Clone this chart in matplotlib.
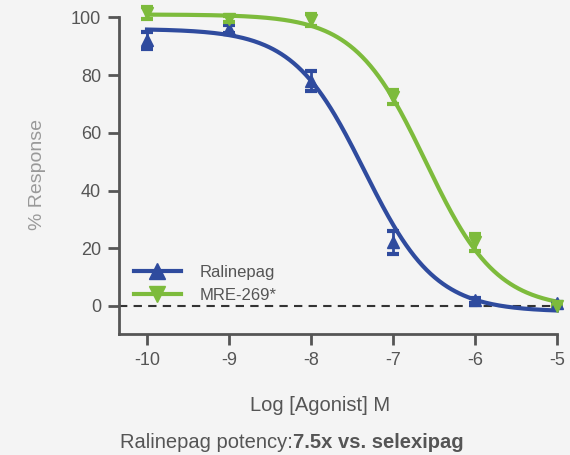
import numpy as np
import matplotlib
matplotlib.use("Agg")
import matplotlib.pyplot as plt

plt.rcParams["font.family"] = ["Liberation Sans", "DejaVu Sans"]

# log concentration (M)
logConc = [-10, -9, -8, -7, -6, -5]

ralinepag = [92, 96, 78, 22, 2, 1]
ralinepagErr = [3, 1.5, 3.5, 4, 0.8, 0.5]
mre269 = [101.5, 99.5, 99, 72.5, 22, 0]
mre269Err = [2, 1, 2, 2.5, 3, 0.5]

# 4-parameter logistic fit params: top, bottom, logEC50, hill
ralinepagFit = [96, -2, -7.35, 1.0]
mre269Fit = [101, -1, -6.6, 1.0]

blue = "#2f4b9e"
green = "#7dbb3c"
grey = "#555555"


def logistic(x, top, bottom, ec50, hill):
    return bottom + (top - bottom) / (1 + 10 ** (hill * (x - ec50)))


fig = plt.figure(figsize=(5.7, 4.55), dpi=100, facecolor="#f4f4f4")
ax = fig.add_axes([0.209, 0.266, 0.768, 0.699])
ax.set_facecolor("#f4f4f4")

xs = np.linspace(-10, -5, 300)
ax.plot(xs, logistic(xs, *ralinepagFit), color=blue, lw=3, zorder=3, clip_on=False)
ax.plot(xs, logistic(xs, *mre269Fit), color=green, lw=3, zorder=3, clip_on=False)

for y, err, mk, c in [(ralinepag, ralinepagErr, "^", blue), (mre269, mre269Err, "v", green)]:
    eb = ax.errorbar(logConc, y, yerr=err, fmt=mk, color=c, ms=9,
                     capsize=4.5, capthick=3, elinewidth=2, zorder=4)
    for art in eb.get_children():
        art.set_clip_on(False)

ax.axhline(0, color="#333333", lw=1.5, ls=(0, (4, 3)), zorder=2)

# legend handles
ax.plot([], [], color=blue, lw=3, marker="^", ms=11, label="Ralinepag")
ax.plot([], [], color=green, lw=3, marker="v", ms=11, label="MRE-269*")
ax.legend(loc="lower left", bbox_to_anchor=(0.0, 0.05), frameon=False, fontsize=12,
          labelcolor=grey, handlelength=2.8, handletextpad=1.1, labelspacing=0.5)

ax.set_xlim(-10.34, -5)
ax.set_ylim(-9.7, 100.5)
ax.set_xticks(logConc)
ax.set_xticklabels([str(v) for v in logConc])
ax.set_yticks([0, 20, 40, 60, 80, 100])

for s in ["top", "right"]:
    ax.spines[s].set_visible(False)
for s in ["left", "bottom"]:
    ax.spines[s].set_color(grey)
    ax.spines[s].set_linewidth(2)
ax.spines["left"].set_bounds(-9.7, 100)
ax.tick_params(colors=grey, width=2, length=8, labelsize=13, pad=5)

ax.set_ylabel("% Response", color="#999999", fontsize=14, labelpad=18)
ax.set_xlabel("Log [Agonist] M", color=grey, fontsize=14.5)
ax.xaxis.set_label_coords(0.46, -0.195)

fig.text(0.514, 0.016, "Ralinepag potency:", ha="right", va="baseline",
         color=grey, fontsize=14.5)
fig.text(0.514, 0.016, "7.5x vs. selexipag", ha="left", va="baseline",
         color=grey, fontsize=14.5, fontweight="bold")

fig.savefig("out.png", dpi=100, facecolor=fig.get_facecolor())
